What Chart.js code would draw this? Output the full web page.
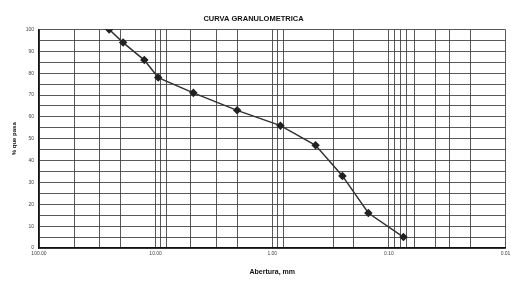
<!DOCTYPE html>
<html>
<head>
<meta charset="utf-8">
<script src="https://cdn.jsdelivr.net/npm/chart.js@4"></script>
<style>
  html, body { margin: 0; padding: 0; background: #fff; }
  #wrap { width: 511px; height: 284px; position: relative; }
</style>
</head>
<body>
<div id="wrap"><canvas id="curva"></canvas></div>
<script>
// abertura del tamiz (mm) y % que pasa
const aberturas = [25, 19, 12.5, 9.5, 4.75, 2.0, 0.85, 0.425, 0.25, 0.15, 0.075];
const pasa = [100, 94, 86, 78, 71, 63, 56, 47, 33, 16, 5];

// lineas verticales de la grilla
const gridX = [100, 50, 30, 20, 10, 9, 8, 5, 3, 2, 1, 0.9, 0.8, 0.3, 0.2,
               0.1, 0.09, 0.08, 0.07, 0.06, 0.04, 0.03, 0.02, 0.01];
const decadas = [100, 10, 1, 0.1, 0.01];

const puntos = aberturas.map((a, i) => ({ x: a, y: pasa[i] }));

const gris = 'rgba(60,60,60,0.85)';

new Chart(document.getElementById('curva'), {
    type: 'scatter',
    data: {
        datasets: [{
            label: '% que pasa',
            data: puntos,
            showLine: true,
            borderColor: '#333',
            borderWidth: 1.5,
            backgroundColor: '#222',
            pointStyle: 'rectRot',
            pointRadius: 3.2,
            pointBorderColor: '#222',
            tension: 0
        }]
    },
    options: {
        responsive: true,
        maintainAspectRatio: false,
        animation: false,
        layout: { padding: { left: 0, right: 4, top: 0, bottom: 0 } },
        plugins: {
            legend: { display: false },
            tooltip: { enabled: false },
            title: {
                display: true,
                text: 'CURVA GRANULOMETRICA',
                color: '#111',
                font: { family: 'Liberation Sans', size: 7.5, weight: 'bold' },
                padding: { top: 14, bottom: 6.5 }
            }
        },
        scales: {
            x: {
                type: 'logarithmic',
                reverse: true,
                min: 0.01,
                max: 100,
                afterBuildTicks: (scale) => {
                    scale.ticks = gridX.map(v => ({ value: v }));
                },
                afterFit: (scale) => {
                    scale.height = 36;
                    scale.paddingRight = 0;
                },
                ticks: {
                    autoSkip: false,
                    maxRotation: 0,
                    color: '#444',
                    padding: 3,
                    font: { family: 'Liberation Sans', size: 5 },
                    callback: function(value) {
                        return decadas.some(d => Math.abs(d - value) < 1e-9) ? value.toFixed(2) : '';
                    }
                },
                grid: { color: gris, lineWidth: 1, drawTicks: false },
                border: { color: '#111', width: 1.5 },
                title: {
                    display: true,
                    text: 'Abertura, mm',
                    color: '#111',
                    font: { family: 'Liberation Sans', size: 7, weight: 'bold' },
                    padding: { top: 4, bottom: 8 }
                }
            },
            y: {
                min: 0,
                max: 100,
                afterFit: (scale) => { scale.width = 39; },
                ticks: {
                    stepSize: 5,
                    color: '#444',
                    padding: 5,
                    font: { family: 'Liberation Sans', size: 5 },
                    callback: function(value) {
                        return value % 10 === 0 ? value : '';
                    }
                },
                grid: { color: gris, lineWidth: 1, drawTicks: false },
                border: { color: '#111', width: 1.5 },
                title: {
                    display: true,
                    text: '% que pasa',
                    color: '#111',
                    font: { family: 'Liberation Sans', size: 6, weight: 'bold' },
                    padding: { top: 11, bottom: 0 }
                }
            }
        }
    }
});
</script>
</body>
</html>
